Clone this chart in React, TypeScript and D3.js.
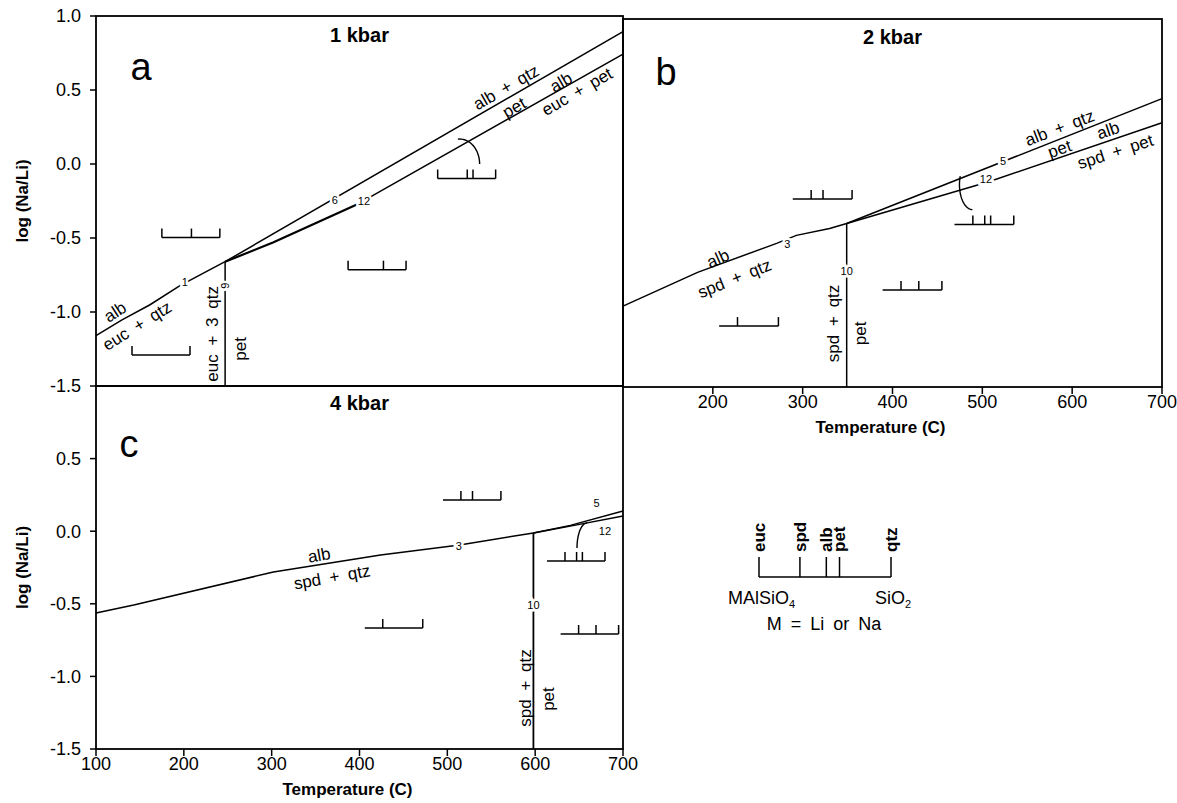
import React from 'react';
import * as d3 from 'd3';

// Na/Li phase diagram, three pressures (1, 2, 4 kbar)

const FONT = '"Liberation Sans", Arial, Helvetica, sans-serif';

const tempTicks = [100, 200, 300, 400, 500, 600, 700];
const tempTicksB = [200, 300, 400, 500, 600, 700];
const logTicksTop = [1.0, 0.5, 0.0, -0.5, -1.0, -1.5];
const logTicksBottom = [0.5, 0.0, -0.5, -1.0, -1.5];

// position of each phase along the MAlSiO4 - SiO2 join
const phaseNames = ['euc', 'spd', 'alb', 'pet', 'qtz'];
const phasePos = [0, 0.31, 0.51, 0.61, 1];
const bracketSpan = 66; // bracket width, in degrees C

// ---- 1 kbar ----
const k1_albEucQtz = [[100, -1.16], [129.6, -1.053], [161.5, -0.951], [195.6, -0.822], [229.8, -0.714], [247, -0.66]];
const k1_albQtzPet = [[247, -0.66], [700, 0.895]];
const k1_albEucPetA = [[247, -0.66], [301.5, -0.531], [397, -0.274]];
const k1_albEucPetB = [[397, -0.274], [423, -0.186], [700, 0.743]];
const k1_eucQtzPet = [[247, -0.66], [247, -1.5]];
const k1_brackets = [
  { t: 175, v: -0.497, ph: ['euc', 'alb', 'qtz'] },
  { t: 141, v: -1.29, ph: ['euc', 'qtz'] },
  { t: 387, v: -0.714, ph: ['euc', 'pet', 'qtz'] },
  { t: 489, v: -0.098, ph: ['euc', 'alb', 'pet', 'qtz'] },
];
const k1_labels = [
  { text: 'alb', t: 121.6, v: -0.999, rot: -33 },
  { text: 'euc + qtz', t: 146.7, v: -1.093, rot: -32 },
  { text: 'euc + 3 qtz', t: 232, v: -1.148, rot: -90 },
  { text: 'pet', t: 264, v: -1.249, rot: -90 },
  { text: 'alb + qtz', t: 566.8, v: 0.519, rot: -30 },
  { text: 'pet', t: 576, v: 0.383, rot: -30 },
  { text: 'alb', t: 629.4, v: 0.553, rot: -30 },
  { text: 'euc + pet', t: 647.6, v: 0.49, rot: -30 },
];
const k1_marks = [
  { text: '1', t: 201, v: -0.795, rot: 0 },
  { text: '6', t: 372, v: -0.245, rot: 0 },
  { text: '12', t: 405, v: -0.252, rot: 0 },
  { text: '9', t: 247, v: -0.822, rot: -90 },
];
const k1_arc = { t: 514, v: 0.0, rx: 20, ry: 25, a0: -95, a1: 0 };

// ---- 2 kbar ----
const k2_albSpdQtz = [[100, -0.951], [183, -0.721], [271, -0.524], [293, -0.47], [330, -0.423], [349, -0.389]];
const k2_albQtzPet = [[349, -0.389], [700, 0.459]];
const k2_albSpdPet = [[349, -0.389], [508, -0.104], [700, 0.295]];
const k2_spdQtzPet = [[349, -0.389], [349, -1.5]];
const k2_brackets = [
  { t: 289, v: -0.223, ph: ['spd', 'alb', 'qtz'] },
  { t: 469, v: -0.396, ph: ['spd', 'alb', 'pet', 'qtz'] },
  { t: 389, v: -0.841, ph: ['spd', 'pet', 'qtz'] },
  { t: 207, v: -1.086, ph: ['spd', 'qtz'] },
];
const k2_labels = [
  { text: 'alb', t: 205.6, v: -0.626, rot: -24 },
  { text: 'spd + qtz', t: 224, v: -0.762, rot: -22 },
  { text: 'spd + qtz', t: 334, v: -1.068, rot: -90 },
  { text: 'pet', t: 364, v: -1.136, rot: -90 },
  { text: 'alb + qtz', t: 586, v: 0.262, rot: -21 },
  { text: 'pet', t: 586, v: 0.119, rot: -19 },
  { text: 'alb', t: 640, v: 0.245, rot: -19 },
  { text: 'spd + pet', t: 648, v: 0.1, rot: -18 },
];
const k2_marks = [
  { text: '3', t: 283, v: -0.531, rot: 0 },
  { text: '5', t: 523, v: 0.036, rot: 0 },
  { text: '12', t: 504, v: -0.09, rot: 0 },
  { text: '10', t: 349, v: -0.711, rot: 0 },
];
const k2_arc = { t: 489, v: -0.125, rx: 13, ry: 25, a0: 200, a1: 90 };

// ---- 4 kbar ----
const k4_albSpdQtz = [[100, -0.563], [143, -0.508], [302, -0.281], [424, -0.164], [514, -0.095], [598, -0.012]];
const k4_albQtzPet = [[598, -0.012], [640, 0.04], [700, 0.139]];
const k4_albSpdPet = [[598, -0.012], [640, 0.035], [700, 0.105]];
const k4_spdQtzPet = [[598, -0.012], [598, -1.5]];
const k4_brackets = [
  { t: 495, v: 0.215, ph: ['spd', 'alb', 'qtz'] },
  { t: 613.5, v: -0.205, ph: ['spd', 'alb', 'pet', 'qtz'] },
  { t: 406, v: -0.667, ph: ['spd', 'qtz'] },
  { t: 629, v: -0.708, ph: ['spd', 'pet', 'qtz'] },
];
const k4_labels = [
  { text: 'alb', t: 354, v: -0.164, rot: -10 },
  { text: 'spd + qtz', t: 368.7, v: -0.315, rot: -10 },
  { text: 'spd + qtz', t: 589, v: -1.08, rot: -90 },
  { text: 'pet', t: 615, v: -1.156, rot: -90 },
];
const k4_marks = [
  { text: '3', t: 513, v: -0.102, rot: 0 },
  { text: '5', t: 670, v: 0.194, rot: 0 },
  { text: '12', t: 679.5, v: 0.0, rot: 0 },
  { text: '10', t: 598, v: -0.508, rot: 0 },
];
const k4_arc = { t: 659, v: -0.116, rx: 10, ry: 25, a0: -90, a1: -180 };

type Pt = number[];

function Panel(props: any) {
  const { box, title, titleY, letter, letterPos, lines, brackets, labels, marks, arc, xTicks, yTicks } = props;
  const x = d3.scaleLinear().domain([100, 700]).range([box.x0, box.x1]);
  const y = d3.scaleLinear().domain([-1.5, 1.0]).range([box.y1, box.y0]);
  const line = d3.line<Pt>().x(d => x(d[0])).y(d => y(d[1]));

  const arcPts = d3.range(0, 1.0001, 0.05).map(f => {
    const a = ((arc.a0 + (arc.a1 - arc.a0) * f) * Math.PI) / 180;
    return [x(arc.t) + arc.rx * Math.cos(a), y(arc.v) + arc.ry * Math.sin(a)];
  });

  return (
    <g>
      <rect x={box.x0} y={box.y0} width={box.x1 - box.x0} height={box.y1 - box.y0}
        fill="none" stroke="#000" strokeWidth={1.8} />
      <text x={(box.x0 + box.x1) / 2} y={titleY} textAnchor="middle" fontSize={20} fontWeight="bold">{title}</text>
      <text x={letterPos[0]} y={letterPos[1]} textAnchor="middle" fontSize={38}>{letter}</text>

      {lines.map((l: any, i: number) => (
        <path key={i} d={line(l.pts) || ''} fill="none" stroke="#000" strokeWidth={l.w} />
      ))}

      <path d={d3.line()(arcPts as [number, number][]) || ''} fill="none" stroke="#000" strokeWidth={1.4} />

      {brackets.map((b: any, i: number) => {
        const x0 = x(b.t);
        const x1 = x(b.t + bracketSpan);
        const yy = y(b.v);
        return (
          <g key={i} stroke="#000" strokeWidth={1.5}>
            <line x1={x0} x2={x1} y1={yy} y2={yy} />
            {b.ph.map((p: string) => {
              const xt = x(b.t + bracketSpan * phasePos[phaseNames.indexOf(p)]);
              return <line key={p} x1={xt} x2={xt} y1={yy} y2={yy - 9} />;
            })}
          </g>
        );
      })}

      {labels.map((l: any, i: number) => (
        <text key={i} transform={`translate(${x(l.t)},${y(l.v)}) rotate(${l.rot})`}
          textAnchor="middle" dy="0.35em" fontSize={17} wordSpacing={4}>{l.text}</text>
      ))}

      {marks.map((m: any, i: number) => (
        <text key={i} transform={`translate(${x(m.t)},${y(m.v)}) rotate(${m.rot})`}
          textAnchor="middle" dy="0.35em" fontSize={11} fill="#000"
          stroke="#fff" strokeWidth={5} style={{ paintOrder: 'stroke' }}>{m.text}</text>
      ))}

      {xTicks && (
        <g>
          {xTicks.map((t: number) => (
            <g key={t}>
              <line x1={x(t)} x2={x(t)} y1={box.y1} y2={box.y1 + 7} stroke="#000" strokeWidth={1.5} />
              <text x={x(t)} y={box.y1 + 21} textAnchor="middle" fontSize={18}>{t}</text>
            </g>
          ))}
          <text x={(box.x0 + box.x1) / 2 - 12} y={box.y1 + 46} textAnchor="middle" fontSize={17} fontWeight="bold">
            Temperature (C)
          </text>
        </g>
      )}

      {yTicks && (
        <g>
          {yTicks.map((v: number) => (
            <g key={v}>
              <line x1={box.x0 - 6} x2={box.x0} y1={y(v)} y2={y(v)} stroke="#000" strokeWidth={1.5} />
              <text x={box.x0 - 15} y={y(v)} dy="0.35em" textAnchor="end" fontSize={18}>{v.toFixed(1)}</text>
            </g>
          ))}
          <text transform={`translate(22,${(box.y0 + box.y1) / 2})rotate(-90)`} textAnchor="middle" dy="0.35em"
            fontSize={17} fontWeight="bold">log (Na/Li)</text>
        </g>
      )}
    </g>
  );
}

function Legend() {
  const lx = d3.scaleLinear().domain([0, 1]).range([759, 891]);
  const base = 577;
  return (
    <g>
      <line x1={lx(0)} x2={lx(1)} y1={base} y2={base} stroke="#000" strokeWidth={1.5} />
      {phaseNames.map((p, i) => (
        <g key={p}>
          <line x1={lx(phasePos[i])} x2={lx(phasePos[i])} y1={base} y2={base - 20} stroke="#000" strokeWidth={1.5} />
          <text transform={`translate(${lx(phasePos[i])},${base - 25}) rotate(-90)`} dy="0.35em"
            fontSize={17} fontWeight="bold">{p}</text>
        </g>
      ))}
      <text x={728} y={604} fontSize={18}>MAlSiO<tspan fontSize={11} dy={4}>4</tspan></text>
      <text x={875} y={604} fontSize={18}>SiO<tspan fontSize={11} dy={4}>2</tspan></text>
      <text x={824} y={630} textAnchor="middle" fontSize={18} wordSpacing={4}>M = Li or Na</text>
    </g>
  );
}

export default function App() {
  return (
    <svg width={1177} height={803} style={{ position: 'absolute', left: 0, top: 0, background: '#fff' }}
      fontFamily={FONT}>
      <rect width={1177} height={803} fill="#fff" />
      <Panel
        box={{ x0: 96, x1: 623, y0: 16, y1: 386 }}
        title="1 kbar" titleY={42} letter="a" letterPos={[141, 80]}
        lines={[
          { pts: k1_albEucQtz, w: 1.5 },
          { pts: k1_albQtzPet, w: 1.5 },
          { pts: k1_albEucPetA, w: 2.2 },
          { pts: k1_albEucPetB, w: 1.5 },
          { pts: k1_eucQtzPet, w: 1.5 },
        ]}
        brackets={k1_brackets} labels={k1_labels} marks={k1_marks} arc={k1_arc}
        xTicks={null} yTicks={logTicksTop}
      />
      <Panel
        box={{ x0: 623, x1: 1162, y0: 19, y1: 387 }}
        title="2 kbar" titleY={44} letter="b" letterPos={[666, 85]}
        lines={[
          { pts: k2_albSpdQtz, w: 1.5 },
          { pts: k2_albQtzPet, w: 1.5 },
          { pts: k2_albSpdPet, w: 1.5 },
          { pts: k2_spdQtzPet, w: 1.5 },
        ]}
        brackets={k2_brackets} labels={k2_labels} marks={k2_marks} arc={k2_arc}
        xTicks={tempTicksB} yTicks={null}
      />
      <Panel
        box={{ x0: 96, x1: 623, y0: 386, y1: 749 }}
        title="4 kbar" titleY={410} letter="c" letterPos={[129, 457]}
        lines={[
          { pts: k4_albSpdQtz, w: 1.5 },
          { pts: k4_albQtzPet, w: 1.5 },
          { pts: k4_albSpdPet, w: 1.5 },
          { pts: k4_spdQtzPet, w: 1.8 },
        ]}
        brackets={k4_brackets} labels={k4_labels} marks={k4_marks} arc={k4_arc}
        xTicks={tempTicks} yTicks={logTicksBottom}
      />
      <Legend />
    </svg>
  );
}
